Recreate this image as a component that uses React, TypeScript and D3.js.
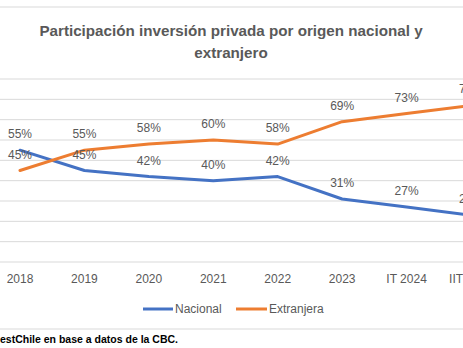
import React from "react";
import * as d3 from "d3";

const categories = ["2018", "2019", "2020", "2021", "2022", "2023", "IT 2024", "IIT 2024"];
const nacional = [55, 45, 42, 40, 42, 31, 27, 23];
const extranjera = [45, 55, 58, 60, 58, 69, 73, 77];
const yTicks = [0, 10, 20, 30, 40, 50, 60, 70, 80, 90];
const titleLines = ["Participación inversión privada por origen nacional y", "extranjero"];
const sourceText = "estChile en base a datos de la CBC.";

const W = 463;
const H = 348;
const FONT = "'Liberation Sans', Arial, sans-serif";
const GRAY = "#595959";
const BLUE = "#4472C4";
const ORANGE = "#ED7D31";

export default function App() {
  const x = d3.scalePoint<string>().domain(categories).range([20, 471]);
  const y = d3.scaleLinear().domain([0, 90]).range([262, 79]);
  const line = d3
    .line<number>()
    .x((_, i) => x(categories[i]) as number)
    .y((d) => y(d));

  const series = [
    { name: "Nacional", values: nacional, color: BLUE },
    { name: "Extranjera", values: extranjera, color: ORANGE },
  ];

  return (
    <svg
      width={W}
      height={H}
      style={{ position: "fixed", left: 0, top: 0, background: "#fff" }}
      fontFamily={FONT}
    >
      <rect x={0} y={0} width={W} height={H} fill="#fff" />
      <line x1={0} x2={W} y1={7} y2={7} stroke="#d9d9d9" strokeWidth={1} />
      <line x1={0} x2={W} y1={329} y2={329} stroke="#d9d9d9" strokeWidth={1} />
      {titleLines.map((t, i) => (
        <text
          key={i}
          x={231}
          y={35.5 + i * 22}
          textAnchor="middle"
          fontSize={15.2}
          fontWeight="bold"
          fill={GRAY}
        >
          {t}
        </text>
      ))}
      {yTicks.map((t) => (
        <line
          key={t}
          x1={0}
          x2={W}
          y1={y(t)}
          y2={y(t)}
          stroke="#d9d9d9"
          strokeWidth={1}
        />
      ))}
      {categories.map((c) => (
        <text
          key={c}
          x={x(c) as number}
          y={283}
          textAnchor="middle"
          fontSize={12}
          fill={GRAY}
        >
          {c}
        </text>
      ))}
      {series.map((s) => (
        <path
          key={s.name}
          d={line(s.values) as string}
          fill="none"
          stroke={s.color}
          strokeWidth={3}
          strokeLinejoin="round"
          strokeLinecap="round"
        />
      ))}
      {series.map((s) =>
        s.values.map((v, i) => (
          <text
            key={s.name + i}
            x={x(categories[i]) as number}
            y={y(v) - 12}
            textAnchor="middle"
            fontSize={12}
            fill={GRAY}
          >
            {v}%
          </text>
        ))
      )}
      <line x1={143} x2={173} y1={309} y2={309} stroke={BLUE} strokeWidth={3} />
      <text x={175} y={313} fontSize={12} fill={GRAY}>
        Nacional
      </text>
      <line x1={236} x2={267} y1={309} y2={309} stroke={ORANGE} strokeWidth={3} />
      <text x={269} y={313} fontSize={12} fill={GRAY}>
        Extranjera
      </text>
      <text x={178} y={343} textAnchor="end" fontSize={10.5} fontWeight="bold" fill="#000">
        {sourceText}
      </text>
    </svg>
  );
}
